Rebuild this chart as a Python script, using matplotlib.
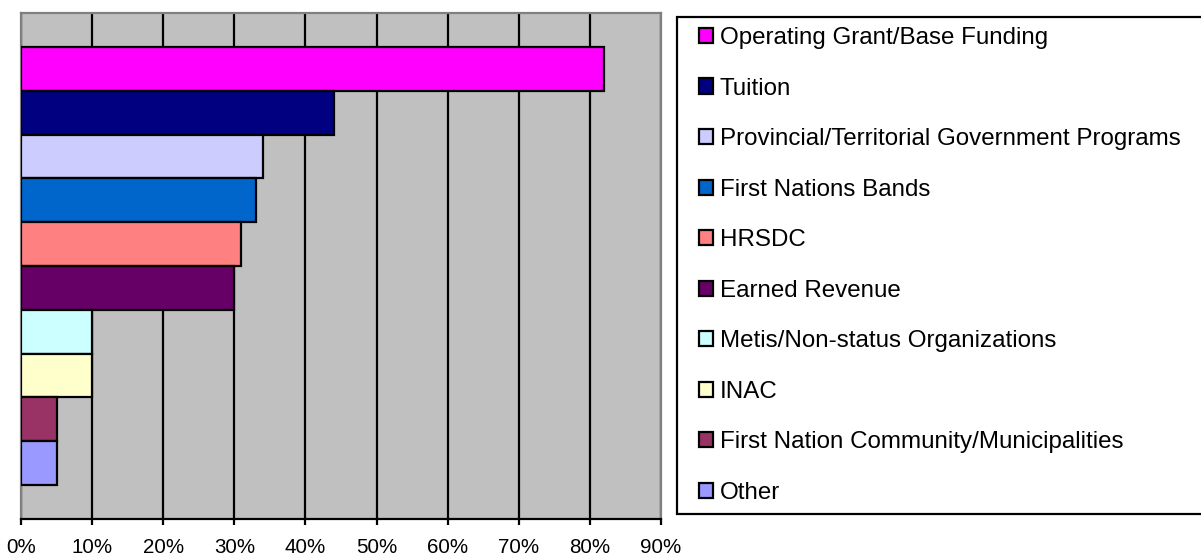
import matplotlib
matplotlib.use("Agg")
import matplotlib.pyplot as plt
from matplotlib.patches import Rectangle

# Funding sources, shares in percent
sources = [
    "Operating Grant/Base Funding",
    "Tuition",
    "Provincial/Territorial Government Programs",
    "First Nations Bands",
    "HRSDC",
    "Earned Revenue",
    "Metis/Non-status Organizations",
    "INAC",
    "First Nation Community/Municipalities",
    "Other",
]
shares = [82, 44, 34, 33, 31, 30, 10, 10, 5, 5]
colors = ["#FF00FF", "#000080", "#CCCCFF", "#0066CC", "#FF8080",
          "#660066", "#CCFFFF", "#FFFFCC", "#993366", "#9999FF"]
tick_vals = list(range(0, 91, 10))
tick_labels = [f"{v}%" for v in tick_vals]

plt.rcParams['font.family'] = ['Liberation Sans', 'DejaVu Sans']

W, H = 1201, 556
fig = plt.figure(figsize=(W / 100, H / 100), dpi=100)
fig.patch.set_facecolor("white")

# axes box in pixels: x 21..661, y 13..519 (from top)
ax = fig.add_axes([21 / W, 1 - 519 / H, (661 - 21) / W, (519 - 13) / H])
ax.set_facecolor("#C0C0C0")

n = len(shares)
bars = []
for i, (lab, v, c) in enumerate(zip(sources, shares, colors)):
    b = ax.barh(i, v, height=1.0, color=c, edgecolor="black", linewidth=1.6,
                label=lab, zorder=3)
    bars.append(b)

margin = 0.777
ax.set_ylim(n - 0.5 + margin, -0.5 - margin)
ax.set_xlim(0, 90)
ax.set_xticks(tick_vals)
ax.set_xticklabels(tick_labels, fontsize=14.8)
ax.set_yticks([])

ax.grid(axis="x", color="black", linewidth=1.6, zorder=1)
ax.set_axisbelow(True)

for s in ["top", "left", "right"]:
    ax.spines[s].set_color("#808080")
    ax.spines[s].set_linewidth(1.6)
ax.spines["bottom"].set_color("black")
ax.spines["bottom"].set_linewidth(1.6)
ax.tick_params(axis="x", direction="out", length=4, width=1.6, pad=10,
               color="black")

# legend frame runs off the right edge of the picture
fig.patches.append(Rectangle((677 / W, 1 - 514 / H), (1215 - 677) / W,
                             (514 - 17) / H, transform=fig.transFigure,
                             facecolor="white", edgecolor="black",
                             linewidth=1.6, zorder=0))

leg = fig.legend(handles=[b.patches[0] for b in bars], labels=sources,
                 loc="upper left", bbox_to_anchor=(699 / W, 1 - 27 / H),
                 frameon=False, fontsize=17.4, handlelength=0.58,
                 handleheight=0.58, handletextpad=0.28, labelspacing=1.18,
                 borderpad=0, borderaxespad=0)
for h in leg.legend_handles:
    h.set_linewidth(1.6)

fig.savefig("out.png", dpi=100)
